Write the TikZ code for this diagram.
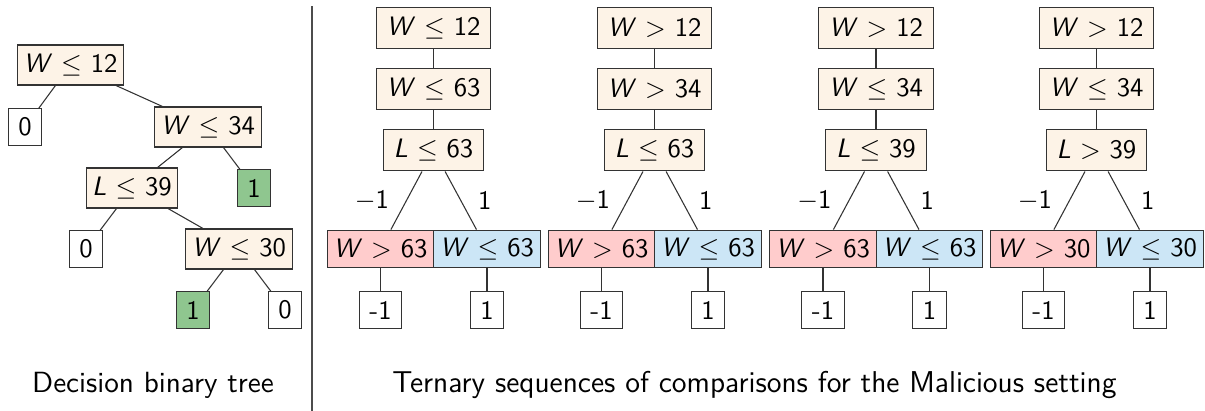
\documentclass[tikz,border=0pt]{standalone}
\usepackage{xcolor}
\usepackage{tikz}
\usetikzlibrary{positioning}

\definecolor{creamfill}{HTML}{FDF3E7}
\definecolor{negfill}{HTML}{FFCCCC}
\definecolor{posfill}{HTML}{CCE6F6}
\definecolor{hitfill}{HTML}{8FC68F}
\definecolor{edgegray}{HTML}{333333}

\newcommand{\condW}[2]{\textit{W} $#1$ #2}
\newcommand{\condL}[2]{\textit{L} $#1$ #2}

\tikzset{
  box/.style={draw=edgegray, rectangle, inner ysep=0pt},
  cond/.style={box, fill=creamfill, inner xsep=3.9pt, minimum height=15.7pt},
  bcond/.style={box, fill=creamfill, inner xsep=2.3pt, minimum height=15pt},
  negbox/.style={box, fill=negfill, inner xsep=2.4pt, minimum height=14.2pt},
  posbox/.style={box, fill=posfill, inner xsep=2.4pt, minimum height=14.2pt},
  leaf/.style={box, fill=white, inner xsep=3.8pt, minimum height=13.7pt, minimum width=12.7pt},
  hit/.style={leaf, fill=hitfill},
  link/.style={draw=edgegray, line width=0.4pt}
}

\begin{document}
\begin{tikzpicture}[x=0.375pt, y=-0.375pt, font=\sffamily]
  \useasboundingbox (0,0) rectangle (1205,411);

  % decision binary tree
  \node[bcond] (b1) at (70.5,65) {\condW{\le}{12}};
  \node[leaf] (z1) at (25,127) {0};
  \node[bcond] (b2) at (208,127) {\condW{\le}{34}};
  \node[bcond] (b3) at (132,188) {\condL{\le}{39}};
  \node[hit] (h1) at (254,188) {1};
  \node[leaf] (z2) at (86,249) {0};
  \node[bcond] (b4) at (239,249) {\condW{\le}{30}};
  \node[hit] (h2) at (193,310) {1};
  \node[leaf] (z3) at (285,310) {0};
  \draw[link] (b1) -- (z1);
  \draw[link] (b1) -- (b2);
  \draw[link] (b2) -- (b3);
  \draw[link] (b2) -- (h1);
  \draw[link] (b3) -- (z2);
  \draw[link] (b3) -- (b4);
  \draw[link] (b4) -- (h2);
  \draw[link] (b4) -- (z3);

  \draw[gray!60!black, line width=0.5pt] (312,6) -- (312,411);

  % ternary sequences
  \foreach \cx/\ra/\na/\rb/\nb/\rc/\nc/\th [count=\i] in
    {433.5/\le/12/\le/63/\le/63/63, 654.5/>/12/>/34/\le/63/63,
     876/>/12/\le/34/\le/39/63, 1096.5/>/12/\le/34/>/39/30}{
    \node[cond] (top\i) at (\cx,28) {\condW{\ra}{\na}};
    \node[cond] (mid\i) at (\cx,89) {\condW{\rb}{\nb}};
    \node[cond] (cmp\i) at (\cx,150) {\condL{\rc}{\nc}};
    \node[negbox] (neg\i) at (\cx-53,249) {\condW{>}{\th}};
    \node[posbox] (pos\i) at (\cx+53.5,249) {\condW{\le}{\th}};
    \node[leaf] (negout\i) at (\cx-53,310) {-1};
    \node[leaf] (posout\i) at (\cx+53.5,310) {1};
    \draw[link] (top\i) -- (mid\i);
    \draw[link] (mid\i) -- (cmp\i);
    \draw[link] (cmp\i) -- node[midway,left=3pt] {$-$1} (neg\i);
    \draw[link] (cmp\i) -- node[midway,right=3pt] {1} (pos\i);
    \draw[link] (neg\i) -- (negout\i);
    \draw[link] (pos\i) -- (posout\i);
  }

  \node[font=\fontsize{10.95}{13}\selectfont\sffamily] (capbin) at (153,385) {Decision binary tree};
  \node[font=\fontsize{11.3}{13}\selectfont\sffamily] (capter) at (754.5,385) {Ternary sequences of comparisons for the Malicious setting};
\end{tikzpicture}
\end{document}
